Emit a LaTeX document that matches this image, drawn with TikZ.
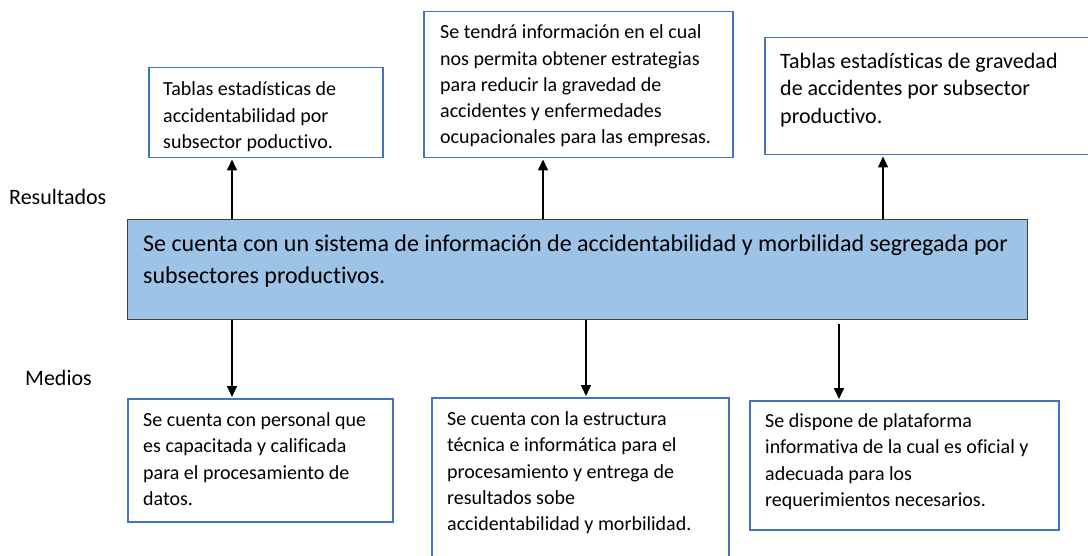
\documentclass[tikz,border=0pt]{standalone}
\usepackage{fontspec}
\setmainfont{Carlito}[Ligatures=NoCommon]
\usetikzlibrary{arrows.meta}
\definecolor{boxblue}{HTML}{4472C4}
\definecolor{mainfill}{HTML}{9DC3E6}
\definecolor{mainline}{HTML}{3F3F3F}
\newcommand\mlines[1]{\begin{tabular}[t]{@{}l@{}}#1\end{tabular}}
\tikzset{
  bluebox/.style={draw=boxblue, line width=1.5pt, fill=white, rectangle, inner sep=0pt, anchor=north west},
  mainbox/.style={draw=mainline, line width=1pt, fill=mainfill, rectangle, inner sep=0pt, anchor=north west},
  txt/.style={anchor=base west, inner sep=0pt, text=black},
  fs20/.style={font=\fontsize{20}{26.2}\selectfont},
  fs22/.style={font=\fontsize{22}{27.5}\selectfont},
  fs24/.style={font=\fontsize{24}{31.7}\selectfont},
  arr/.style={draw=black, line width=1.6pt, -{Triangle[width=10pt,length=11pt]}, shorten >=1pt}
}
\begin{document}
\begin{tikzpicture}[x=1pt,y=-1pt]
\useasboundingbox (0,0) rectangle (1088,556);
\clip (0,0) rectangle (1088,556);
% boxes
\node[bluebox, minimum width=234pt, minimum height=90pt] (t1) at (148,67) {};
\node[bluebox, minimum width=309pt, minimum height=146pt] (t2) at (423,11) {};
\node[bluebox, minimum width=330pt, minimum height=117pt] (t3) at (764,37) {};
\node[mainbox, minimum width=900pt, minimum height=100pt] (main) at (127,219) {};
\node[bluebox, minimum width=265pt, minimum height=123pt] (b1) at (127,398) {};
\node[bluebox, minimum width=297pt, minimum height=190pt] (b2) at (431,397) {};
\node[bluebox, minimum width=309pt, minimum height=129pt] (b3) at (749,400) {};
% texts
\node[txt, fs20] (t1txt) at (163,96) {\mlines{Tablas estadísticas de\\accidentabilidad por\\subsector poductivo.}};
\node[txt, fs20] (t2txt) at (440,39) {\mlines{Se tendrá información en el cual\\nos permita obtener estrategias\\para reducir la gravedad de\\accidentes y enfermedades\\ocupacionales para las empresas.}};
\node[txt, fs22] (t3txt) at (780,68.3) {\mlines{Tablas estadísticas de gravedad\\de accidentes por subsector\\productivo.}};
\node[txt, fs24] (maintxt) at (143,251.7) {\mlines{Se cuenta con un sistema de información de accidentabilidad y morbilidad segregada por\\subsectores productivos.}};
\node[txt, fs20] (b1txt) at (143,426.7) {\mlines{Se cuenta con personal que\\es capacitada y calificada\\para el procesamiento de\\datos.}};
\node[txt, fs20] (b2txt) at (447,425.7) {\mlines{Se cuenta con la estructura\\técnica e informática para el\\procesamiento y entrega de\\resultados sobe\\accidentabilidad y morbilidad.}};
\node[txt, fs20] (b3txt) at (765,427.7) {\mlines{Se dispone de plataforma\\informativa de la cual es oficial y\\adecuada para los\\requerimientos necesarios.}};
\node[txt, fs22] (res) at (9,205) {Resultados};
\node[txt, fs22] (med) at (25,385) {Medios};
% arrow positions
\coordinate (xa) at (232,0);
\coordinate (xb) at (543,0);
\coordinate (xc) at (883,0);
\coordinate (xd) at (232,0);
\coordinate (xe) at (586,0);
\coordinate (xf) at (839,0);
\draw[arr] (xa |- main.north) -- (xa |- t1.south);
\draw[arr] (xb |- main.north) -- (xb |- t2.south);
\draw[arr] (xc |- main.north) -- (xc |- t3.south);
\draw[arr] (xd |- main.south) -- (xd |- b1.north);
\draw[arr] (xe |- main.south) -- (xe |- b2.north);
\draw[arr, shorten <=4pt] (xf |- main.south) -- (xf |- b3.north);
\end{tikzpicture}
\end{document}
